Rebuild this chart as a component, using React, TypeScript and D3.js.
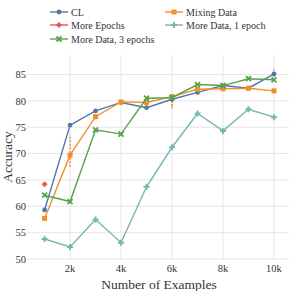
import React from "react";
import { scaleLinear, line } from "d3";

const xs = [1, 2, 3, 4, 5, 6, 7, 8, 9, 10];
const clAcc = [59.3, 75.4, 78.1, 79.7, 78.7, 80.3, 81.6, 82.9, 82.4, 85.1];
const mixAcc = [57.7, 69.7, 77.0, 79.8, 79.7, 80.8, 82.2, 82.3, 82.4, 81.9];
const moreEpochsX = [1];
const moreEpochsAcc = [64.2];
const data1Acc = [53.8, 52.3, 57.5, 53.1, 63.7, 71.2, 77.6, 74.3, 78.4, 76.9];
const data3Acc = [62.1, 60.9, 74.5, 73.7, 80.5, 80.6, 83.1, 82.9, 84.2, 84.0];

// error bars: [x, low, high]
const clErr = [[6, 78.6, 80.6], [10, 84.6, 86.2]];
const mixErr = [[2, 67.5, 73.6], [6, 79.0, 81.3]];

const yTicks = [50, 55, 60, 65, 70, 75, 80, 85];
const xTicks = [2, 4, 6, 8, 10];

const series = [
  { name: "CL", color: "#4e79a7", xs, ys: clAcc, marker: "circle" },
  { name: "Mixing Data", color: "#f28e2b", xs, ys: mixAcc, marker: "square" },
  { name: "More Epochs", color: "#e15759", xs: moreEpochsX, ys: moreEpochsAcc, marker: "diamond" },
  { name: "More Data, 1 epoch", color: "#76b7b2", xs, ys: data1Acc, marker: "plus" },
  { name: "More Data, 3 epochs", color: "#59a14f", xs, ys: data3Acc, marker: "x" },
];

const Marker = ({ type, x, y, color }) => {
  if (type === "circle") return <circle cx={x} cy={y} r={2.4} fill={color} />;
  if (type === "square") return <rect x={x - 2.5} y={y - 2.5} width={5} height={5} fill={color} />;
  if (type === "diamond")
    return <path d={`M${x},${y - 3}L${x + 3},${y}L${x},${y + 3}L${x - 3},${y}Z`} fill={color} />;
  if (type === "plus")
    return <path d={`M${x - 3},${y}H${x + 3}M${x},${y - 3}V${y + 3}`} stroke={color} strokeWidth={2} />;
  return <path d={`M${x - 2.5},${y - 2.5}L${x + 2.5},${y + 2.5}M${x - 2.5},${y + 2.5}L${x + 2.5},${y - 2.5}`} stroke={color} strokeWidth={1.8} />;
};

const App = () => {
  const width = 291;
  const height = 291;
  const left = 27;
  const right = 289;
  const top = 55;
  const bottom = 259;

  const xScale = scaleLinear().domain([0.31, 10.59]).range([left, right]);
  const yScale = scaleLinear().domain([50, 88.7]).range([bottom, top]);
  const path = line().x((d) => xScale(d[0])).y((d) => yScale(d[1]));

  const font = "'Liberation Serif', 'Times New Roman', serif";

  const legend = [
    [50, 12],
    [165, 12],
    [50, 25],
    [165, 25],
    [50, 39],
  ];

  return (
    <svg width={width} height={height} style={{ position: "absolute", left: 0, top: 0 }} fontFamily={font}>
      <rect width={width} height={height} fill="#fff" />
      {yTicks.map((t) => (
        <g key={t}>
          <line x1={left} x2={right} y1={yScale(t)} y2={yScale(t)} stroke="#e6e6e6" strokeWidth={1} />
          <text x={26} y={yScale(t)} dy="0.35em" textAnchor="end" fontSize={10.5} fill="#333">
            {t}
          </text>
        </g>
      ))}
      {xTicks.map((t) => (
        <g key={t}>
          <line x1={xScale(t)} x2={xScale(t)} y1={top} y2={bottom} stroke="#e6e6e6" strokeWidth={1} />
          <text x={xScale(t)} y={272} textAnchor="middle" fontSize={10.5} fill="#333">
            {t}k
          </text>
        </g>
      ))}
      <text x={159} y={289} textAnchor="middle" fontSize={13.5} fill="#333">
        Number of Examples
      </text>
      <text transform={`translate(12,${(top + bottom) / 2}) rotate(-90)`} textAnchor="middle" fontSize={13.5} fill="#333">
        Accuracy
      </text>

      {clErr.map((e, i) => (
        <line key={"ce" + i} x1={xScale(e[0])} x2={xScale(e[0])} y1={yScale(e[1])} y2={yScale(e[2])} stroke="#4e79a7" strokeWidth={1} strokeDasharray="1.5,1.5" />
      ))}
      {mixErr.map((e, i) => (
        <line key={"me" + i} x1={xScale(e[0])} x2={xScale(e[0])} y1={yScale(e[1])} y2={yScale(e[2])} stroke="#f28e2b" strokeWidth={1.5} strokeDasharray="2,1.5" />
      ))}

      {series.map((s) => {
        const pts = s.xs.map((x, i) => [x, s.ys[i]]);
        return (
          <g key={s.name}>
            <path d={path(pts)} fill="none" stroke={s.color} strokeWidth={1.4} />
            {pts.map((p, i) => (
              <Marker key={i} type={s.marker} x={xScale(p[0])} y={yScale(p[1])} color={s.color} />
            ))}
          </g>
        );
      })}

      {series.map((s, i) => {
        const [lx, ly] = legend[i];
        return (
          <g key={"lg" + s.name}>
            <line x1={lx} x2={lx + 18} y1={ly} y2={ly} stroke={s.color} strokeWidth={1.4} />
            <Marker type={s.marker} x={lx + 9} y={ly} color={s.color} />
            <text x={lx + 21} y={ly} dy="0.35em" fontSize={10} fill="#333">
              {s.name}
            </text>
          </g>
        );
      })}
    </svg>
  );
};

export default App;
